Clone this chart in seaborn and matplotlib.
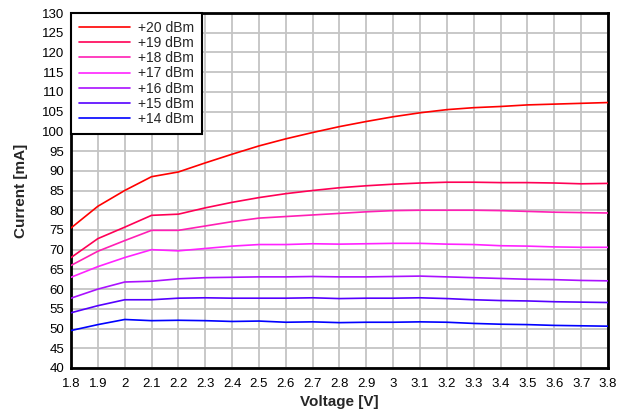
import matplotlib
matplotlib.use("Agg")
import matplotlib.pyplot as plt
import seaborn as sns
import pandas as pd
import numpy as np

voltage = [1.8, 1.9, 2.0, 2.1, 2.2, 2.3, 2.4, 2.5, 2.6, 2.7, 2.8, 2.9, 3.0, 3.1, 3.2, 3.3, 3.4, 3.5, 3.6, 3.7, 3.8]
p20 = [75.5, 81, 85, 88.5, 89.7, 92, 94.2, 96.3, 98.1, 99.7, 101.2, 102.5, 103.7, 104.7, 105.5, 106, 106.3, 106.7, 106.9, 107.1, 107.3]
p19 = [68, 72.8, 75.7, 78.7, 79, 80.6, 82, 83.2, 84.2, 85, 85.7, 86.2, 86.6, 86.9, 87.1, 87.1, 87.0, 87.0, 86.9, 86.7, 86.8]
p18 = [66, 69.6, 72.3, 74.9, 74.9, 76, 77.1, 78, 78.4, 78.8, 79.2, 79.6, 79.9, 80, 80, 80, 79.9, 79.7, 79.5, 79.4, 79.3]
p17 = [63, 65.7, 68, 70, 69.7, 70.3, 70.9, 71.3, 71.3, 71.5, 71.4, 71.5, 71.6, 71.6, 71.4, 71.3, 71.0, 70.9, 70.7, 70.6, 70.6]
p16 = [57.7, 60, 61.8, 62, 62.6, 62.9, 63, 63.1, 63.1, 63.2, 63.1, 63.1, 63.2, 63.3, 63.1, 62.9, 62.7, 62.5, 62.4, 62.2, 62.1]
p15 = [54, 55.8, 57.3, 57.3, 57.7, 57.8, 57.7, 57.7, 57.7, 57.8, 57.6, 57.7, 57.7, 57.8, 57.6, 57.3, 57.1, 57.0, 56.8, 56.7, 56.6]
p14 = [49.5, 51, 52.3, 52, 52.1, 52, 51.8, 51.9, 51.6, 51.7, 51.5, 51.6, 51.6, 51.7, 51.6, 51.3, 51.1, 51, 50.8, 50.7, 50.6]

series_names = ["+20 dBm", "+19 dBm", "+18 dBm", "+17 dBm", "+16 dBm", "+15 dBm", "+14 dBm"]
series_vals = [p20, p19, p18, p17, p16, p15, p14]
colors = ["#ff0000", "#ff0055", "#ff1fb4", "#ff22ff", "#aa11ff", "#5500ff", "#0000ff"]

x_ticks = [1.8, 1.9, 2.0, 2.1, 2.2, 2.3, 2.4, 2.5, 2.6, 2.7, 2.8, 2.9, 3.0, 3.1, 3.2, 3.3, 3.4, 3.5, 3.6, 3.7, 3.8]
x_labels = ["1.8", "1.9", "2", "2.1", "2.2", "2.3", "2.4", "2.5", "2.6", "2.7", "2.8", "2.9", "3", "3.1", "3.2", "3.3", "3.4", "3.5", "3.6", "3.7", "3.8"]
y_ticks = list(range(40, 131, 5))

rows = []
for name, vals in zip(series_names, series_vals):
    for v, c in zip(voltage, vals):
        rows.append({"Voltage": v, "Current": c, "Power": name})
df = pd.DataFrame(rows)

sns.set_style("white")
plt.rcParams['font.family'] = ['Liberation Sans', 'DejaVu Sans']

fig = plt.figure(figsize=(6.26, 4.13), dpi=100)
ax = fig.add_axes([71/626, 45/413, 537/626, 355/413])

sns.lineplot(data=df, x="Voltage", y="Current", hue="Power", hue_order=series_names,
             palette=dict(zip(series_names, colors)), linewidth=1.2, ax=ax, zorder=3)

ax.set_xlim(1.8, 3.8)
ax.set_ylim(40, 130)
ax.set_xticks(x_ticks)
ax.set_xticklabels(x_labels)
ax.set_yticks(y_ticks)
ax.tick_params(axis='both', length=0, labelsize=9.5, colors='black')
ax.tick_params(axis='x', pad=7)
ax.tick_params(axis='y', pad=5)
ax.grid(True, color='#c4c4c4', linewidth=1.3, zorder=0)
ax.set_axisbelow(True)
for s in ax.spines.values():
    s.set_color('black')
    s.set_linewidth(2)
    s.set_visible(True)

ax.set_xlabel("Voltage [V]", fontsize=11, fontweight='bold', labelpad=4)
ax.set_ylabel("Current [mA]", fontsize=11, fontweight='bold', labelpad=10)

leg = ax.legend(loc='upper left', bbox_to_anchor=(0.0, 1.0), frameon=True, fancybox=False,
                edgecolor='black', fontsize=10, handlelength=3.7, handletextpad=0.58,
                labelspacing=0.09, borderpad=0.55, borderaxespad=0.0, title=None)
leg.get_frame().set_linewidth(1.5)
leg.get_frame().set_alpha(1)
leg.set_zorder(5)

fig.savefig("out.png", dpi=100)
